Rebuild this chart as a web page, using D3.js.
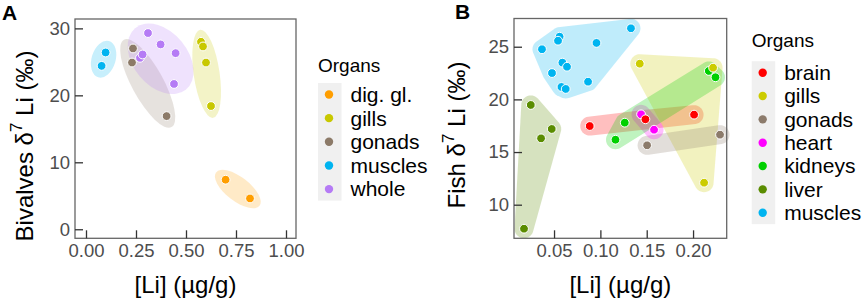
<!DOCTYPE html>
<html><head><meta charset="utf-8">
<script src="https://cdn.jsdelivr.net/npm/d3@7"></script>
<style>body{margin:0;background:#fff}svg{display:block;font-family:"Liberation Sans",Arial,sans-serif}</style>
</head><body>
<svg id="c" width="865" height="299"></svg>
<script>
// ---------- Panel A: bivalves ----------
const organsA = ["dig. gl.", "gills", "gonads", "muscles", "whole"];
const colorsA = ["#FF9E00", "#C8C800", "#8C7A68", "#00B4F0", "#B57BF5"];
const bivalveOrgan = ["muscles","muscles","gonads","gonads","gonads","whole","whole","whole","whole","whole","whole","gills","gills","gills","gills","dig. gl.","dig. gl."];
const bivalveLi = [0.098,0.078,0.235,0.23,0.403,0.27,0.283,0.31,0.373,0.448,0.44,0.575,0.585,0.60,0.625,0.698,0.82];
const bivalveD7 = [26.4,24.4,27.0,24.9,16.9,25.6,26.1,29.3,27.6,26.3,21.7,28.0,27.3,24.9,18.4,7.4,4.6];
const xTicksA = [0, 0.25, 0.5, 0.75, 1.0];
const yTicksA = [0, 10, 20, 30];

// ---------- Panel B: fish ----------
const organsB = ["brain", "gills", "gonads", "heart", "kidneys", "liver", "muscles"];
const colorsB = ["#FF0000", "#CCCC00", "#8C7B6B", "#FF00FF", "#00D000", "#5A8C00", "#00B4F0"];
const fishOrgan = ["muscles","muscles","muscles","muscles","muscles","muscles","muscles","muscles","muscles","muscles","muscles",
  "liver","liver","liver","liver",
  "kidneys","kidneys","kidneys","kidneys",
  "heart","heart",
  "brain","brain","brain",
  "gills","gills","gills",
  "gonads","gonads"];
const fishLi = [0.133,0.0958,0.037,0.056,0.0543,0.059,0.064,0.0478,0.0867,0.058,0.0626,
  0.0249,0.036,0.0475,0.0176,
  0.217,0.2242,0.1263,0.1163,
  0.1439,0.1579,
  0.0885,0.1486,0.2011,
  0.1425,0.2216,0.2119,
  0.1504,0.2291];
const fishD7 = [26.75,25.36,24.76,25.95,25.57,23.49,23.1,22.5,21.68,21.18,20.99,
  19.47,16.3,17.19,7.72,
  22.7,22.1,17.79,16.17,
  18.58,17.12,
  17.47,18.11,18.55,
  23.39,23.01,12.09,
  15.64,16.65];
const xTicksB = [0.05, 0.10, 0.15, 0.20];
const yTicksB = [10, 15, 20, 25];

const svg = d3.select("#c");
const TICK_FONT = 18.5, TITLE_FONT = 24, LEG_FONT = 21;

function ellipseFor(pts, pad) {
  const cx = d3.mean(pts, p => p[0]), cy = d3.mean(pts, p => p[1]);
  let sxx = 0, syy = 0, sxy = 0;
  pts.forEach(p => { const dx = p[0]-cx, dy = p[1]-cy; sxx += dx*dx; syy += dy*dy; sxy += dx*dy; });
  const ang = 0.5 * Math.atan2(2*sxy, sxx - syy);
  const c = Math.cos(ang), s = Math.sin(ang);
  const uv = pts.map(p => [(p[0]-cx)*c + (p[1]-cy)*s, -(p[0]-cx)*s + (p[1]-cy)*c]);
  const [u0, u1] = d3.extent(uv, d => d[0]), [v0, v1] = d3.extent(uv, d => d[1]);
  const uc = (u0+u1)/2, vc = (v0+v1)/2;
  let a = (u1-u0)/2 + pad, b = (v1-v0)/2 + pad;
  let k = d3.max(uv, d => Math.hypot((d[0]-uc)/(a-5), (d[1]-vc)/(b-5)));
  if (k > 1) { a *= k; b *= k; }
  return {x: cx + uc*c - vc*s, y: cy + uc*s + vc*c, a, b, deg: ang*180/Math.PI};
}

function hullFor(pts, R) {
  const ring = [];
  pts.forEach(p => { for (let i = 0; i < 36; i++) { const t = i/36*2*Math.PI; ring.push([p[0]+R*Math.cos(t), p[1]+R*Math.sin(t)]); } });
  const h = d3.polygonHull(ring);
  return "M" + h.map(p => p.join(",")).join("L") + "Z";
}

function panel(cfg) {
  const {x0, x1, y0, y1, xDom, yDom, xTicks, yTicks, xFmt} = cfg;
  const x = d3.scaleLinear().domain(xDom).range([x0, x1]);
  const y = d3.scaleLinear().domain(yDom).range([y1, y0]);
  const g = svg.append("g");
  const pts = cfg.li.map((v, i) => ({org: cfg.org[i], px: x(v), py: y(cfg.d7[i])}));
  const col = d3.scaleOrdinal().domain(cfg.organs).range(cfg.colors);
  const sg = g.append("g");
  cfg.organs.forEach(o => {
    const pp = pts.filter(p => p.org === o).map(p => [p.px, p.py]);
    if (!pp.length) return;
    if (cfg.shape === "ellipse") {
      const e = ellipseFor(pp, 12);
      sg.append("ellipse").attr("cx", 0).attr("cy", 0).attr("rx", e.a).attr("ry", e.b)
        .attr("transform", `translate(${e.x},${e.y}) rotate(${e.deg})`)
        .attr("fill", col(o)).attr("fill-opacity", 0.22);
    } else {
      sg.append("path").attr("d", hullFor(pp, 9.5)).attr("fill", col(o)).attr("fill-opacity", 0.25);
    }
  });
  g.append("g").selectAll("circle").data(pts).join("circle")
    .attr("cx", d => d.px).attr("cy", d => d.py).attr("r", 4.4)
    .attr("fill", d => col(d.org)).attr("stroke", "#fff").attr("stroke-width", 1);
  g.append("rect").attr("x", x0).attr("y", y0).attr("width", x1-x0).attr("height", y1-y0)
    .attr("fill", "none").attr("stroke", "#666").attr("stroke-width", 1.3);
  const xa = g.append("g").attr("transform", `translate(0,${y1})`)
    .call(d3.axisBottom(x).tickValues(xTicks).tickFormat(xFmt).tickSizeInner(-8).tickSizeOuter(0).tickPadding(13));
  const ya = g.append("g").attr("transform", `translate(${x0},0)`)
    .call(d3.axisLeft(y).tickValues(yTicks).tickFormat(d3.format("d")).tickSizeInner(-8).tickSizeOuter(0).tickPadding(13));
  [xa, ya].forEach(a => {
    a.select(".domain").remove();
    a.selectAll(".tick line").attr("stroke", "#333").attr("stroke-width", 1.3);
    a.selectAll(".tick text").attr("fill", "#4D4D4D").attr("font-size", TICK_FONT).attr("font-family", "Liberation Sans, Arial, sans-serif");
  });
  ya.selectAll(".tick text").attr("x", -5);
  xa.selectAll(".tick text").attr("y", 6);
  g.append("text").attr("x", (x0+x1)/2).attr("y", cfg.xTitleY).attr("text-anchor", "middle")
    .attr("font-size", TITLE_FONT).attr("fill", "#000").text("[Li] (µg/g)");
  const yt = g.append("text").attr("transform", `translate(${cfg.yTitleX},${cfg.yTitleC}) rotate(-90)`)
    .attr("text-anchor", "middle").attr("font-size", TITLE_FONT).attr("fill", "#000");
  yt.append("tspan").text(cfg.yLabel + "  δ");
  yt.append("tspan").attr("font-size", 17).attr("dy", -11).text("7");
  yt.append("tspan").attr("dy", 11).text(" Li (‰)");
  g.append("text").attr("x", cfg.letterX).attr("y", cfg.letterY).attr("font-weight", "bold")
    .attr("font-size", 21).attr("fill", "#000").text(cfg.letter);
  const L = cfg.legend;
  const lg = g.append("g");
  lg.append("text").attr("x", L.x).attr("y", L.titleY).attr("font-size", 19).attr("fill", "#000").text("Organs");
  const n = cfg.organs.length;
  lg.append("rect").attr("x", L.x).attr("y", L.dy0 - 11.5).attr("width", 23.5).attr("height", (n-1)*L.step + 23)
    .attr("fill", "#F0F0F0");
  cfg.organs.forEach((o, i) => {
    const cy = L.dy0 + i*L.step;
    lg.append("circle").attr("cx", L.x + 11).attr("cy", cy).attr("r", 4.2).attr("fill", col(o));
    lg.append("text").attr("x", L.x + 32.5).attr("y", cy).attr("dy", "0.35em").attr("font-size", LEG_FONT)
      .attr("fill", "#000").text(o);
  });
}

panel({
  x0: 75, x1: 296, y0: 19, y1: 238.3, xDom: [-0.055, 1.05], yDom: [-1.35, 31.4],
  xTicks: xTicksA, yTicks: yTicksA, xFmt: d3.format(".2f"),
  li: bivalveLi, d7: bivalveD7, org: bivalveOrgan, organs: organsA, colors: colorsA, shape: "ellipse",
  xTitleY: 293, yTitleX: 33, yTitleC: 146, yLabel: "Bivalves",
  letter: "A", letterX: 2, letterY: 20,
  legend: {x: 318, titleY: 71.5, dy0: 94.5, step: 23.65}
});
panel({
  x0: 514, x1: 726.7, y0: 18.5, y1: 238.3, xDom: [0.0068, 0.2363], yDom: [6.81, 27.68],
  xTicks: xTicksB, yTicks: yTicksB, xFmt: d3.format(".2f"),
  li: fishLi, d7: fishD7, org: fishOrgan, organs: organsB, colors: colorsB, shape: "hull",
  xTitleY: 293, yTitleX: 465, yTitleC: 135, yLabel: "Fish",
  letter: "B", letterX: 455, letterY: 19,
  legend: {x: 751.7, titleY: 46.5, dy0: 72.7, step: 23.33}
});
</script>
</body></html>
